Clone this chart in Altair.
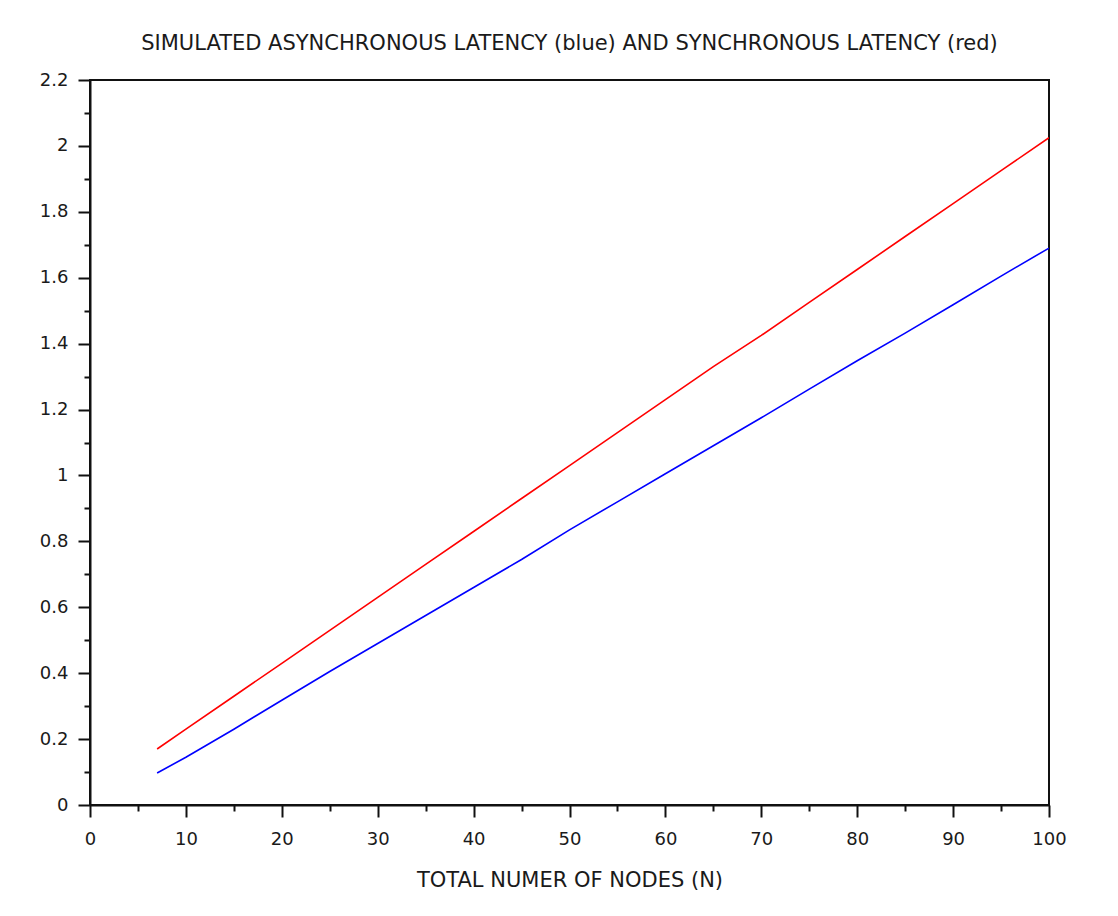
import altair as alt
import pandas as pd

nodes = [7, 10, 15, 20, 25, 30, 35, 40, 45, 50, 55, 60, 65, 70, 75, 80, 85, 90, 95, 100]
async_latency = [0.097, 0.145, 0.23, 0.318, 0.405, 0.49, 0.575, 0.66, 0.745, 0.835,
                 0.92, 1.005, 1.09, 1.175, 1.262, 1.348, 1.432, 1.518, 1.605, 1.69]
sync_latency = [0.17, 0.23, 0.33, 0.43, 0.53, 0.63, 0.73, 0.83, 0.93, 1.03,
                1.13, 1.23, 1.33, 1.425, 1.525, 1.625, 1.725, 1.825, 1.925, 2.025]

x_major = [0, 10, 20, 30, 40, 50, 60, 70, 80, 90, 100]
x_minor = [5, 15, 25, 35, 45, 55, 65, 75, 85, 95]
y_major = [0, 0.2, 0.4, 0.6, 0.8, 1, 1.2, 1.4, 1.6, 1.8, 2, 2.2]
y_minor = [0.1, 0.3, 0.5, 0.7, 0.9, 1.1, 1.3, 1.5, 1.7, 1.9, 2.1]

title_text = "SIMULATED ASYNCHRONOUS LATENCY (blue) AND SYNCHRONOUS LATENCY (red)"
x_title = "TOTAL NUMER OF NODES (N)"

df = pd.DataFrame({
    "N": nodes * 2,
    "latency": async_latency + sync_latency,
    "series": ["async"] * len(nodes) + ["sync"] * len(nodes),
})

FONT = "DejaVu Sans"
xscale = alt.Scale(domain=[0, 100], nice=False, zero=False)
yscale = alt.Scale(domain=[0, 2.2], nice=False, zero=False)

major_axis_common = dict(
    domainColor="#111", domainWidth=2, tickColor="#111", tickWidth=2, tickSize=12,
    labelFont=FONT, labelFontSize=18, labelColor="#1a1a1a", grid=False, labelFlush=False,
)

lines = alt.Chart(df).mark_line(strokeWidth=1.6, clip=True).encode(
    x=alt.X("N:Q", scale=xscale,
            axis=alt.Axis(values=x_major, title=x_title, titleFont=FONT, titleFontSize=21,
                          titleFontWeight="normal", titleColor="#1a1a1a", titlePadding=21,
                          labelPadding=13, format="d", **major_axis_common)),
    y=alt.Y("latency:Q", scale=yscale,
            axis=alt.Axis(values=y_major, title=None, labelPadding=10,
                          labelExpr="datum.value == 0 ? '0' : format(datum.value, '.1~f')",
                          **major_axis_common)),
    color=alt.Color("series:N", scale=alt.Scale(domain=["async", "sync"], range=["#0000ff", "#ff0000"]),
                    legend=None),
    detail="series:N",
)

minor = alt.Chart(df).mark_point(opacity=0).encode(
    x=alt.X("N:Q", scale=xscale,
            axis=alt.Axis(orient="bottom", values=x_minor, labels=False, domain=False, grid=False,
                          title=None, tickSize=6, tickWidth=2, tickColor="#111")),
    y=alt.Y("latency:Q", scale=yscale,
            axis=alt.Axis(orient="left", values=y_minor, labels=False, domain=False, grid=False,
                          title=None, tickSize=6, tickWidth=2, tickColor="#111")),
)

chart = alt.layer(lines, minor).resolve_axis(x="independent", y="independent").properties(
    width=959, height=725,
    title=alt.TitleParams(title_text, font=FONT, fontSize=21, fontWeight="normal", color="#1a1a1a",
                          anchor="middle", frame="group", baseline="bottom", offset=20, dy=24),
    autosize=alt.AutoSizeParams(type="none"),
    padding={"left": 82, "top": 72, "right": 61, "bottom": 100},
    background="white",
).configure_view(stroke="#111", strokeWidth=2)

chart.save("out.html", embed_options={"renderer": "svg", "actions": False})
